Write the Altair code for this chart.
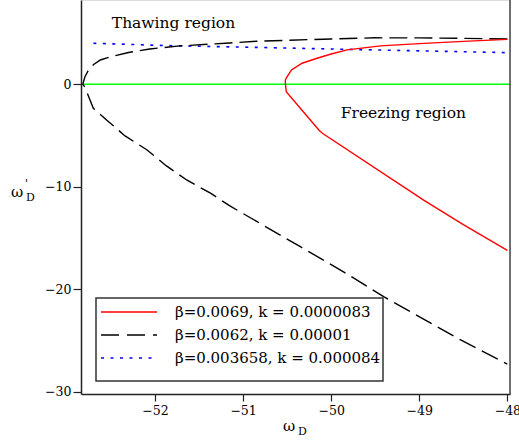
import altair as alt
import pandas as pd

# ---- curve data ----
# beta=0.0069, k=0.0000083 (solid red)
red_x = [-48.0, -48.5, -49.0, -49.44, -49.82, -50.0, -50.16, -50.33, -50.45, -50.50,
         -50.52, -50.52, -50.51, -50.14, -50.1, -48.95, -48.5, -48.0]
red_y = [4.38, 4.18, 3.96, 3.74, 3.35, 2.95, 2.54, 2.05, 1.4, 0.74,
         0.42, 0.1, -0.72, -4.46, -4.78, -11.3, -13.7, -16.2]

# beta=0.0062, k=0.00001 (long dashed black)
black_x = [-48.0, -48.5, -49.0, -49.5, -50.0, -50.84, -51.15, -51.72, -52.06, -52.3,
           -52.51, -52.62, -52.7, -52.76, -52.795, -52.82, -52.795, -52.70, -52.55,
           -52.34, -52.09, -51.87, -51.64, -51.37, -51.15, -50.81, -50.35, -49.86,
           -49.4, -48.53, -48.0]
black_y = [4.42, 4.48, 4.52, 4.53, 4.42, 4.2, 4.03, 3.74, 3.44, 3.1,
           2.66, 2.37, 1.9, 1.3, 0.74, 0.0, -0.3, -2.34, -3.48,
           -5.04, -6.41, -7.97, -9.34, -10.63, -11.87, -13.56, -15.85, -18.3,
           -20.75, -24.95, -27.3]

# beta=0.003658, k=0.000084 (dotted blue)
blue_x = [-52.7, -51.87, -50.92, -49.52, -47.97]
blue_y = [4.0, 3.77, 3.61, 3.35, 3.08]

# zero line (green)
zero_x = [-52.82, -47.97]
zero_y = [0.0, 0.0]

legend_labels = ["β=0.0069, k = 0.0000083",
                 "β=0.0062, k = 0.00001",
                 "β=0.003658, k = 0.000084"]

x_ticks = [-52, -51, -50, -49, -48]
y_ticks = [0, -10, -20, -30]

X_DOMAIN = [-52.84, -47.97]
Y_DOMAIN = [-30.22, 8.22]
W, H = 429, 394
FONT = "DejaVu Serif"


def frame(xs, ys):
    return pd.DataFrame({"x": xs, "y": ys, "i": list(range(len(xs)))})


x_enc = alt.X("x:Q", scale=alt.Scale(domain=X_DOMAIN, nice=False, zero=False),
              axis=alt.Axis(values=x_ticks, format="d", title=None, grid=False, labelFont=FONT,
                            labelFontSize=12.5, labelColor="black", domainColor="#222",
                            domainWidth=1.5, tickColor="#222", tickWidth=1.2, tickSize=7,
                            labelPadding=3, labelFlush=False))
y_enc = alt.Y("y:Q", scale=alt.Scale(domain=Y_DOMAIN, nice=False, zero=False),
              axis=alt.Axis(values=y_ticks, format="d", title=None, grid=False, labelFont=FONT,
                            labelFontSize=12.5, labelColor="black", domainColor="#222",
                            domainWidth=1.5, tickColor="#222", tickWidth=1.2, tickSize=8,
                            labelPadding=2))

zero_line = alt.Chart(frame(zero_x, zero_y)).mark_line(
    color="#00ff00", strokeWidth=1.5).encode(x=x_enc, y=y_enc, order="i:Q")
blue_line = alt.Chart(frame(blue_x, blue_y)).mark_line(
    color="#0000ff", strokeWidth=1.6, strokeDash=[3, 6.5]).encode(x=x_enc, y=y_enc, order="i:Q")
black_line = alt.Chart(frame(black_x, black_y)).mark_line(
    color="black", strokeWidth=1.4, strokeDash=[18, 7]).encode(x=x_enc, y=y_enc, order="i:Q")
red_line = alt.Chart(frame(red_x, red_y)).mark_line(
    color="#ff0000", strokeWidth=1.4).encode(x=x_enc, y=y_enc, order="i:Q")

# right-hand frame line
right_edge = alt.Chart(pd.DataFrame({"a": [0]})).mark_rule(
    color="#444", strokeWidth=1.5).encode(x=alt.value(W), y=alt.value(0), y2=alt.value(H))

# region annotations
regions = pd.DataFrame({"x": [-51.79, -49.18], "y": [5.98, -2.8],
                        "t": ["Thawing region", "Freezing region"]})
region_text = alt.Chart(regions).mark_text(
    font=FONT, fontSize=15.5, color="black", align="center", baseline="middle"
).encode(x=alt.X("x:Q"), y=alt.Y("y:Q"), text="t:N")

# legend box
LX0, LX1, LY0, LY1 = 15, 302, 298, 381
rows = [312, 335, 358]
legend_box = alt.Chart(pd.DataFrame({"a": [0]})).mark_rect(
    fill="white", stroke="#333", strokeWidth=1.5).encode(
    x=alt.value(LX0), x2=alt.value(LX1), y=alt.value(LY0), y2=alt.value(LY1))

styles = [dict(color="#ff0000", strokeWidth=1.4),
          dict(color="black", strokeWidth=1.4, strokeDash=[18, 8]),
          dict(color="#0000ff", strokeWidth=1.6, strokeDash=[3, 6.5])]
legend_samples = [
    alt.Chart(pd.DataFrame({"a": [0]})).mark_rule(**st).encode(
        x=alt.value(20), x2=alt.value(76), y=alt.value(ry))
    for st, ry in zip(styles, rows)
]
legend_text = [
    alt.Chart(pd.DataFrame({"t": [lab]})).mark_text(
        font=FONT, fontSize=15, color="black", align="left", baseline="middle").encode(
        x=alt.value(94), y=alt.value(ry), text="t:N")
    for lab, ry in zip(legend_labels, rows)
]

# axis titles: omega with subscript D (and prime on the vertical one)
def label(txt, px, py, size, align="center"):
    return alt.Chart(pd.DataFrame({"t": [txt]})).mark_text(
        font=FONT, fontSize=size, color="black", align=align, baseline="middle").encode(
        x=alt.value(px), y=alt.value(py), text="t:N")

titles = [
    label("ω", 208, 426, 15), label("D", 217, 432, 11, "left"),
    label("ω", -64, 192, 15), label("D", -55, 198, 11, "left"), label("'", -56, 184, 11, "left"),
]

chart = alt.layer(
    zero_line, blue_line, black_line, red_line, right_edge, region_text,
    legend_box, *legend_samples, *legend_text, *titles
).properties(
    width=W, height=H,
    autosize=alt.AutoSizeParams(type="none"),
    padding={"left": 81, "top": 0, "right": 9, "bottom": 48},
).configure_view(stroke=None).configure(background="white")

chart.save("out.html", embed_options={"renderer": "svg", "actions": False})
